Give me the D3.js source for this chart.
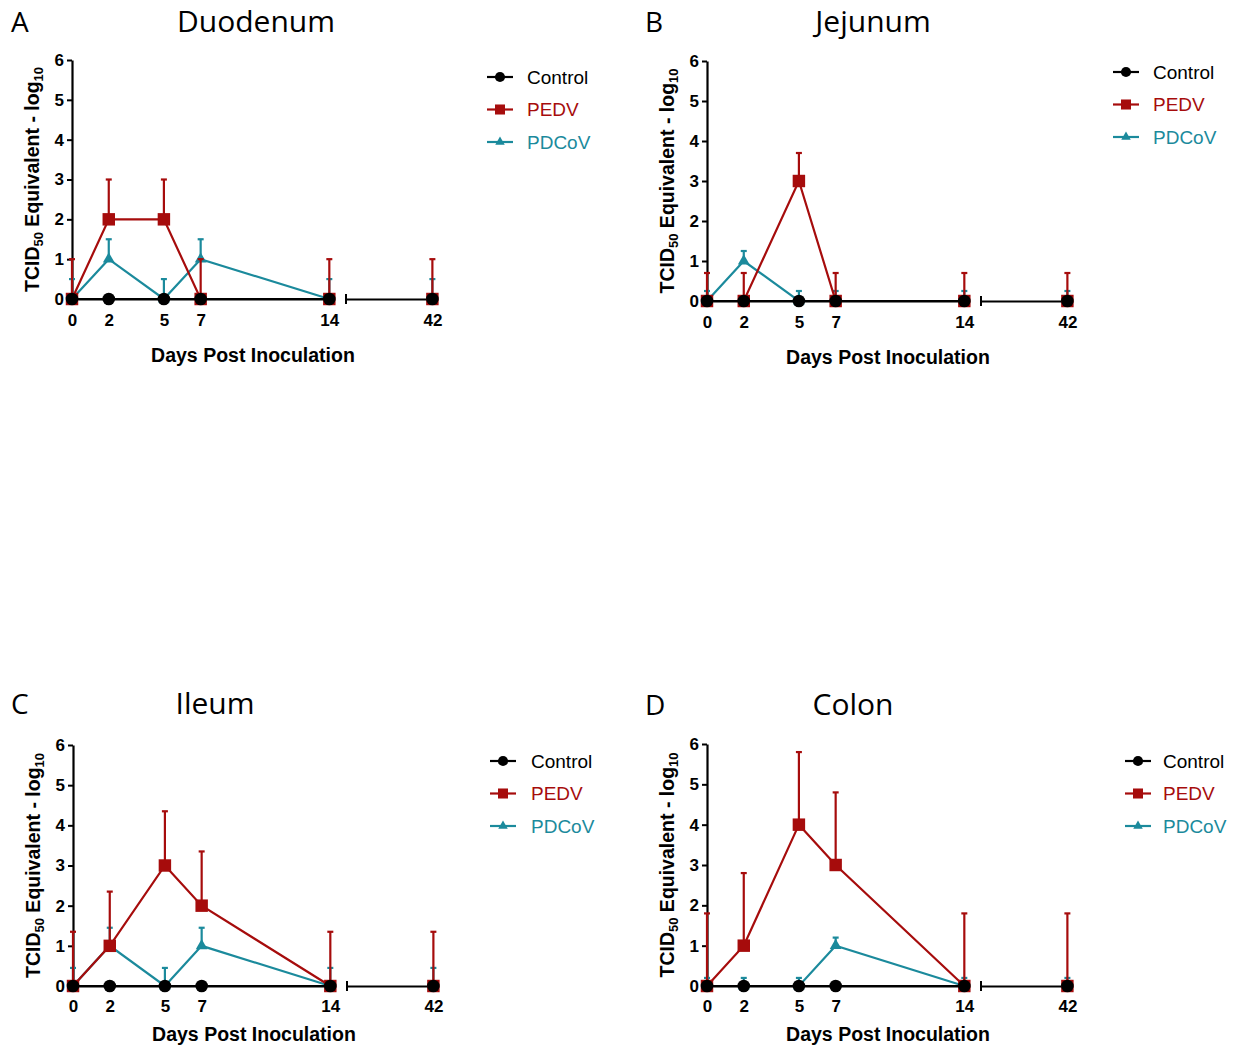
<!DOCTYPE html>
<html>
<head>
<meta charset="utf-8">
<script src="https://cdn.jsdelivr.net/npm/d3@7"></script>
<style>
  body { margin: 0; background: #fff; }
  svg { display: block; }
</style>
</head>
<body>
<svg id="chart" width="1240" height="1048"></svg>
<script>
// days sampled (x axis has a break between 14 and 42)
const days = [0, 2, 5, 7, 14, 42]
const tissues = ["Duodenum", "Jejunum", "Ileum", "Colon"]
const letters = ["A", "B", "C", "D"]
const seriesNames = ["Control", "PEDV", "PDCoV"]
const yTicks = [0, 1, 2, 3, 4, 5, 6]

// mean log10 TCID50 equivalents, one array per tissue
const controlMean = [0, 0, 0, 0, 0, 0]
const pedvMean = {
    Duodenum: [0, 2, 2, 0, 0, 0],
    Jejunum: [0, 0, 3, 0, 0, 0],
    Ileum: [0, 1, 3, 2, 0, 0],
    Colon: [0, 1, 4, 3, 0, 0]
}
// upper error bar length (SD)
const pedvSd = {
    Duodenum: [1, 1, 1, 1, 1, 1],
    Jejunum: [0.7, 0.7, 0.7, 0.7, 0.7, 0.7],
    Ileum: [1.35, 1.35, 1.35, 1.35, 1.35, 1.35],
    Colon: [1.8, 1.8, 1.8, 1.8, 1.8, 1.8]
}
const pdcovMean = {
    Duodenum: [0, 1, 0, 1, 0, 0],
    Jejunum: [0, 1, 0, 0, 0, 0],
    Ileum: [0, 1, 0, 1, 0, 0],
    Colon: [0, 0, 0, 1, 0, 0]
}
const pdcovSd = {
    Duodenum: [0.5, 0.5, 0.5, 0.5, 0.5, 0.5],
    Jejunum: [0.25, 0.25, 0.25, 0.25, 0.25, 0.25],
    Ileum: [0.45, 0.45, 0.45, 0.45, 0.45, 0.45],
    Colon: [0.2, 0.2, 0.2, 0.2, 0.2, 0.2]
}

const colors = { Control: "#000000", PEDV: "#a60c0c", PDCoV: "#1b8a9c" }
const symbols = { Control: d3.symbolCircle, PEDV: d3.symbolSquare, PDCoV: d3.symbolTriangle }
const symSize = { Control: 125, PEDV: 155, PDCoV: 60 }

// panel placement on the page
const layout = [
    { ox: 72, top: 60, bot: 299, tickY: 320, titleAxY: 355, titleX: 256, titleY: 32, letterX: 11, legX: 487, legTx: 527, legY: 77 },
    { ox: 707, top: 61, bot: 301, tickY: 322, titleAxY: 357, titleX: 873, titleY: 32, letterX: 645, legX: 1113, legTx: 1153, legY: 72 },
    { ox: 73, top: 745, bot: 986, tickY: 1006, titleAxY: 1034, titleX: 215, titleY: 714, letterX: 11, legX: 490, legTx: 531, legY: 761 },
    { ox: 707, top: 744, bot: 986, tickY: 1006, titleAxY: 1034, titleX: 853, titleY: 715, letterX: 645, legX: 1125, legTx: 1163, legY: 761 }
]

const pxPerDay = 18.38
const fmt = d3.format("d")
const svg = d3.select("#chart")

tissues.forEach((tissue, i) => {
    const L = layout[i]
    const g = svg.append("g")

    const x1 = d3.scaleLinear().domain([0, 14.3]).range([L.ox, L.ox + 14.3 * pxPerDay])
    const x2 = d3.scaleLinear().domain([37.3, 42.3]).range([L.ox + 274, L.ox + 274 + 5 * pxPerDay])
    const xPos = d => d <= 14 ? x1(d) : x2(d)
    const y = d3.scaleLinear().domain([0, 6]).range([L.bot, L.top])

    // letter + title (y is baseline)
    g.append("text").attr("x", L.letterX).attr("y", L.titleY)
        .style("font", "28px 'Open Sans', 'Noto Sans', sans-serif").text(letters[i])
    g.append("text").attr("x", L.titleX).attr("y", L.titleY)
        .attr("text-anchor", "middle")
        .style("font", "30px 'Open Sans', 'Noto Sans', sans-serif").text(tissue)

    // y axis
    const ya = g.append("g").attr("transform", `translate(${L.ox},0)`)
        .call(d3.axisLeft(y).tickValues(yTicks).tickFormat(fmt).tickSize(5).tickPadding(3).tickSizeOuter(0))
    ya.select(".domain").attr("stroke-width", 2.2)
    ya.selectAll(".tick line").attr("stroke-width", 2)
    ya.selectAll("text").style("font", "bold 17px 'Liberation Sans', Arial, sans-serif").attr("fill", "#000")

    // x axis, two segments
    const xa1 = g.append("g").attr("transform", `translate(0,${y(0)})`)
        .call(d3.axisBottom(x1).tickValues(days.filter(d => d <= 14)).tickFormat(fmt).tickSize(0).tickSizeOuter(0).tickPadding(0))
    const xa2 = g.append("g").attr("transform", `translate(0,${y(0)})`)
        .call(d3.axisBottom(x2).tickValues(days.filter(d => d > 14)).tickFormat(fmt).tickSize(0).tickSizeOuter(0).tickPadding(0))
    ;[xa1, xa2].forEach(a => {
        a.select(".domain").attr("stroke-width", 2.2)
        a.selectAll("text").attr("y", L.tickY - y(0)).attr("dy", "0.35em")
            .style("font", "bold 17px 'Liberation Sans', Arial, sans-serif").attr("fill", "#000")
    })
    // break mark at start of second segment
    g.append("line").attr("x1", x2(37.3)).attr("x2", x2(37.3))
        .attr("y1", y(0) - 5).attr("y2", y(0) + 5).attr("stroke", "#000").attr("stroke-width", 2)

    g.append("text").attr("x", (x1(0) + x2(42.3)) / 2 - 2).attr("y", L.titleAxY).attr("dy", "0.35em")
        .attr("text-anchor", "middle")
        .style("font", "bold 19.5px 'Liberation Sans', Arial, sans-serif").text("Days Post Inoculation")

    // y label with subscripts
    const yl = g.append("text")
        .attr("transform", `translate(${L.ox - 40},${(L.top + L.bot) / 2}) rotate(-90)`)
        .attr("text-anchor", "middle").attr("dy", "0.35em")
        .style("font", "bold 19.5px 'Liberation Sans', Arial, sans-serif")
    yl.append("tspan").text("TCID")
    yl.append("tspan").attr("dy", 4).style("font-size", "13px").text("50")
    yl.append("tspan").attr("dy", -4).text(" Equivalent - log")
    yl.append("tspan").attr("dy", 4).style("font-size", "13px").text("10")

    // series, drawn PDCoV first, control on top
    const series = {
        Control: { mean: controlMean, sd: null },
        PEDV: { mean: pedvMean[tissue], sd: pedvSd[tissue] },
        PDCoV: { mean: pdcovMean[tissue], sd: pdcovSd[tissue] }
    }
    const line = d3.line().x(d => xPos(d.day)).y(d => y(d.v))
    ;["PDCoV", "PEDV", "Control"].forEach(name => {
        const s = series[name]
        const pts = days.map((d, k) => ({ day: d, v: s.mean[k], sd: s.sd ? s.sd[k] : 0 }))
        const c = colors[name]

        const eb = g.append("g").selectAll("g").data(pts.filter(p => p.sd > 0)).join("g")
        eb.append("line").attr("x1", p => xPos(p.day)).attr("x2", p => xPos(p.day))
            .attr("y1", p => y(p.v)).attr("y2", p => y(p.v + p.sd))
            .attr("stroke", c).attr("stroke-width", 2.2)
        eb.append("line").attr("x1", p => xPos(p.day) - 3).attr("x2", p => xPos(p.day) + 3)
            .attr("y1", p => y(p.v + p.sd)).attr("y2", p => y(p.v + p.sd))
            .attr("stroke", c).attr("stroke-width", 2.2)

        g.append("path").datum(pts.filter(p => p.day <= 14)).attr("d", line)
            .attr("fill", "none").attr("stroke", c).attr("stroke-width", 2.2)

        g.append("g").selectAll("path").data(pts).join("path")
            .attr("transform", p => `translate(${xPos(p.day)},${y(p.v)})`)
            .attr("d", d3.symbol(symbols[name], symSize[name]))
            .attr("fill", c)
    })

    // legend
    seriesNames.forEach((name, k) => {
        const ly = L.legY + k * 32.5
        g.append("line").attr("x1", L.legX).attr("x2", L.legX + 26).attr("y1", ly).attr("y2", ly)
            .attr("stroke", colors[name]).attr("stroke-width", 2.2)
        g.append("path").attr("transform", `translate(${L.legX + 13},${ly})`)
            .attr("d", d3.symbol(symbols[name], symSize[name] * 0.65)).attr("fill", colors[name])
        g.append("text").attr("x", L.legTx).attr("y", ly).attr("dy", "0.35em")
            .attr("fill", colors[name])
            .style("font", "19px 'Liberation Sans', Arial, sans-serif").text(name)
    })
})
</script>
</body>
</html>
